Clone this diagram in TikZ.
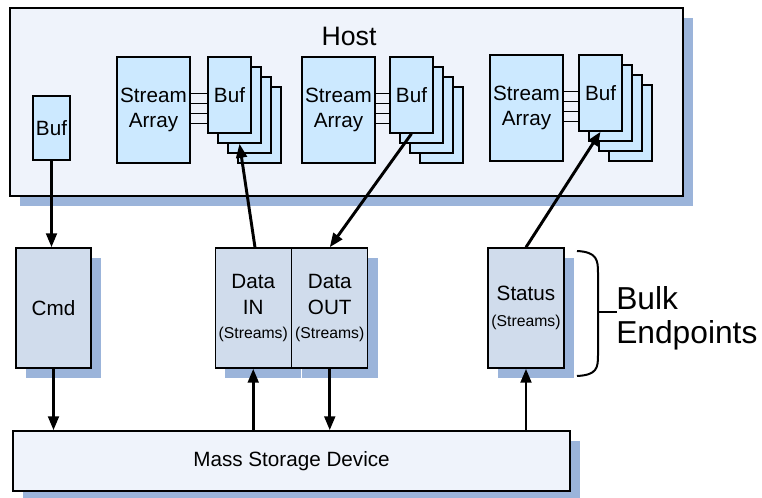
\documentclass[tikz,border=0pt]{standalone}
\usepackage{fontspec}
\setmainfont{Liberation Sans}
\usepackage{tikz}
\usetikzlibrary{arrows.meta, calc, shadows}

\definecolor{hostbg}{HTML}{EFF3FB}
\definecolor{bufblue}{HTML}{CCE9FF}
\definecolor{epblue}{HTML}{D0DCEC}
\definecolor{shadowblue}{HTML}{9BB4DA}

\begin{document}
\begin{tikzpicture}[x=0.75pt, y=-0.75pt,
    box/.style={draw=black, line width=1.1pt, inner sep=0pt, align=center,
        font=\fontsize{15.5}{19}\selectfont},
    shadowed/.style={drop shadow={shadow xshift=7.5pt, shadow yshift=-7.5pt,
        fill=shadowblue, opacity=1}},
    streambox/.style={box, fill=bufblue, minimum width=54.75pt, minimum height=79.5pt},
    bufcard/.style={box, fill=bufblue, minimum width=32.25pt, minimum height=57pt},
    endpoint/.style={box, shadowed, fill=epblue, minimum width=57pt, minimum height=90pt},
    flow/.style={line width=2.2pt, -{Triangle[length=10.5pt, width=8pt]}},
    link/.style={line width=1.1pt}]
    \useasboundingbox (0,0) rectangle (762,498);

    % 호스트 영역
    \node[box, shadowed, fill=hostbg, minimum width=504.75pt, minimum height=141pt]
        (host) at (346.5,102) {};
    \node[font=\fontsize{20}{24}\selectfont] (hostlabel) at (349,36) {Host};
    \node[box, fill=bufblue, minimum width=27.75pt, minimum height=48pt]
        (bufc) at (51.5,128) {Buf};

    % 스트림 배열과 버퍼 묶음
    \foreach \g/\sx/\bx/\ty in {1/117/208/57, 2/302/390/57, 3/490/579/55} {
        \node[streambox] (sa\g) at ({\sx+36.5},{\ty+53}) {Stream\\Array};
        \foreach \k/\n in {3/d, 2/c, 1/b}
            \node[bufcard] (buf\g-\n) at ({\bx+21.5+10*\k},{\ty+38+10*\k}) {};
        \node[bufcard] (buf\g-a) at ({\bx+21.5},{\ty+38}) {Buf};
        \foreach \dy in {37,47,57,67}
            \draw[link] ($(sa\g.north east)+(0,\dy)$) -- ($(buf\g-a.north west)+(0,\dy)$);
    }

    % 엔드포인트
    \node[endpoint, minimum width=56.25pt] (cmd) at (53.5,308) {Cmd};
    \node[endpoint] (din) at (253.25,308)
        {Data\\IN\\[-1pt]{\fontsize{11.8}{16}\selectfont(Streams)}};
    \node[endpoint] (dout) at (329.75,308)
        {Data\\OUT\\[-1pt]{\fontsize{11.8}{16}\selectfont(Streams)}};
    \node[endpoint] (status) at (526,308)
        {Status\\[1pt]{\fontsize{11.8}{16}\selectfont(Streams)}};

    % 대용량 저장 장치
    \node[box, shadowed, fill=hostbg, minimum width=417.75pt, minimum height=45pt]
        (mass) at (291.5,461) {Mass Storage Device};

    % 데이터 흐름
    \draw[flow] (bufc.south) -- (bufc.south |- cmd.north);
    \draw[flow] (cmd.south) -- (cmd.south |- mass.north);
    \draw[flow] (din.south |- mass.north) -- (din.south);
    \draw[flow] ([xshift=1.3pt]din.north) -- (buf1-b.south);
    \draw[flow] (buf2-a.south) -- (dout.north);
    \draw[flow] (dout.south) -- (dout.south |- mass.north);
    \draw[flow] (status.south |- mass.north) -- (status.south);
    \draw[flow] (status.north) -- (buf3-a.south);

    % 벌크 엔드포인트 중괄호
    \draw[line width=1.5pt] (577,251) .. controls (597,252) and (598,260) .. (598,273)
        -- (598,355) .. controls (598,368) and (597,375) .. (577,376);
    \coordinate (bracetip) at (617,312);
    \draw[line width=1.5pt] (598,312) -- (bracetip);
    \node[anchor=west, align=left, inner sep=0pt, font=\fontsize{23.8}{25.5}\selectfont]
        (bulk) at (616,318) {Bulk\\Endpoints};
\end{tikzpicture}
\end{document}
